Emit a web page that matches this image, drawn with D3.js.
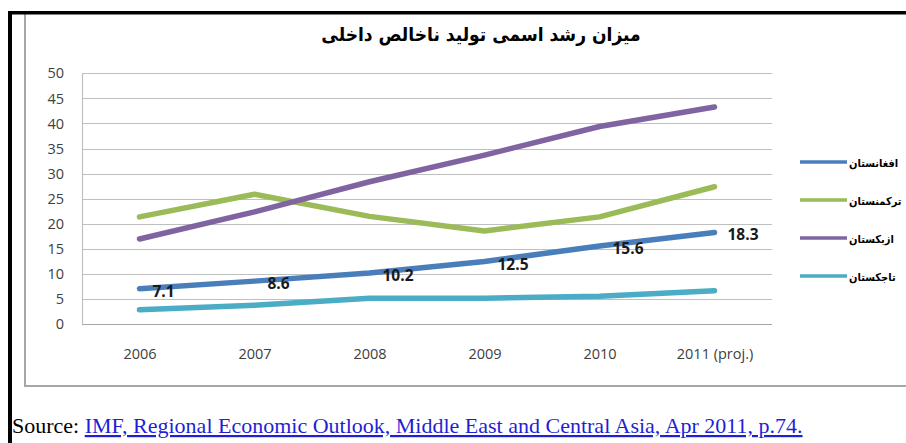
<!DOCTYPE html>
<html>
<head>
<meta charset="utf-8">
<script src="https://cdn.jsdelivr.net/npm/d3@7"></script>
<style>
  html, body { margin: 0; padding: 0; background: #fff; }
  svg { display: block; }
</style>
</head>
<body>
<svg id="chart" width="906" height="443"></svg>
<script>
// Nominal GDP growth, Central Asian economies (%)
const years = ["2006", "2007", "2008", "2009", "2010", "2011 (proj.)"];
const afghanistan = [7.1, 8.6, 10.2, 12.5, 15.6, 18.3];
const turkmenistan = [21.4, 25.9, 21.5, 18.6, 21.4, 27.4];
const uzbekistan = [17.0, 22.4, 28.4, 33.7, 39.4, 43.3];
const tajikistan = [2.9, 3.8, 5.2, 5.2, 5.6, 6.7];
const seriesNames = ["افغانستان", "ترکمنستان", "ازبکستان", "تاجکستان"];
const seriesColors = ["#4a7ebb", "#9bbb59", "#8064a2", "#4bacc6"];
const yTicks = [0, 5, 10, 15, 20, 25, 30, 35, 40, 45, 50];
const titleText = "میزان رشد اسمی تولید ناخالص داخلی";

const series = [afghanistan, turkmenistan, uzbekistan, tajikistan].map((values, i) => ({
  name: seriesNames[i], color: seriesColors[i], values
}));

const svg = d3.select("#chart");

// outer frame
svg.append("line").attr("x1", 25).attr("x2", 25).attr("y1", 13).attr("y2", 386)
  .attr("stroke", "#a6a6a6").attr("stroke-width", 2);
svg.append("line").attr("x1", 24).attr("x2", 906).attr("y1", 386).attr("y2", 386)
  .attr("stroke", "#a6a6a6").attr("stroke-width", 2);
svg.append("rect").attr("x", 8).attr("y", 11).attr("width", 898).attr("height", 3.5).attr("fill", "#000");
svg.append("rect").attr("x", 8).attr("y", 11).attr("width", 4).attr("height", 432).attr("fill", "#000");

// title
svg.append("text").attr("x", 481).attr("y", 41).attr("text-anchor", "middle")
  .attr("font-family", "'DejaVu Sans Condensed', 'DejaVu Sans', sans-serif").attr("font-weight", "bold")
  .attr("font-size", 19).attr("fill", "#000").text(titleText);

const x = d3.scalePoint().domain(years).range([82, 772]).padding(0.5);
const y = d3.scaleLinear().domain([0, 50]).range([324.3, 73.3]);

// gridlines
svg.append("g").selectAll("line").data(yTicks).join("line")
  .attr("x1", 82).attr("x2", 772)
  .attr("y1", d => Math.round(y(d)) + 0.5).attr("y2", d => Math.round(y(d)) + 0.5)
  .attr("stroke", d => d === 0 ? "#a6a6a6" : "#bfbfbf").attr("stroke-width", 1.2);
svg.append("line").attr("x1", 82.5).attr("x2", 82.5).attr("y1", y(50)).attr("y2", y(0) + 1)
  .attr("stroke", "#bfbfbf").attr("stroke-width", 1.2);

// y axis labels
const yAxis = d3.axisLeft(y).tickValues(yTicks).tickSize(0).tickPadding(0);
const gy = svg.append("g").attr("transform", "translate(64,0)").call(yAxis);
gy.select(".domain").remove();
gy.selectAll("text").attr("font-family", "'Open Sans', sans-serif").attr("font-size", 14.5)
  .attr("fill", "#404040");

// x axis labels
const xAxis = d3.axisBottom(x).tickSize(0).tickPadding(0);
const gx = svg.append("g").attr("transform", "translate(0,349)").call(xAxis);
gx.select(".domain").remove();
gx.selectAll("text").attr("font-family", "'Open Sans', sans-serif").attr("font-size", 14.5)
  .attr("fill", "#404040");

// lines
const line = d3.line().x((d, i) => x(years[i])).y(d => y(d));
svg.append("g").selectAll("path").data(series).join("path")
  .attr("d", d => line(d.values))
  .attr("fill", "none").attr("stroke", d => d.color).attr("stroke-width", 5.5)
  .attr("stroke-linecap", "round").attr("stroke-linejoin", "round");

// value labels for Afghanistan
svg.append("g").selectAll("text").data(afghanistan).join("text")
  .attr("x", (d, i) => x(years[i]) + 13)
  .attr("y", d => y(d) + 8)
  .attr("font-family", "'Open Sans', sans-serif").attr("font-weight", "bold")
  .attr("font-size", 15.5).attr("fill", "#1a1a1a")
  .text(d => d.toFixed(1));

// legend
const legendY = [162, 200, 238, 276];
const lg = svg.append("g").selectAll("g").data(series).join("g")
  .attr("transform", (d, i) => `translate(0,${legendY[i]})`);
lg.append("line").attr("x1", 800).attr("x2", 847).attr("y1", 0).attr("y2", 0)
  .attr("stroke", d => d.color).attr("stroke-width", 3.5);
lg.append("text").attr("x", 849).attr("y", 5)
  .attr("font-family", "'DejaVu Sans Condensed', 'DejaVu Sans', sans-serif").attr("font-weight", "bold")
  .attr("font-size", 11).attr("fill", "#000").text(d => d.name);

// source line
const src = svg.append("text").attr("x", 12).attr("y", 433)
  .attr("font-family", "'Liberation Serif', 'Times New Roman', serif").attr("font-size", 22);
src.append("tspan").attr("fill", "#000").text("Source: ");
src.append("tspan").attr("fill", "#1f1fd6").attr("text-decoration", "underline")
  .text("IMF, Regional Economic Outlook, Middle East and Central Asia, Apr 2011, p.74.");
</script>
</body>
</html>
